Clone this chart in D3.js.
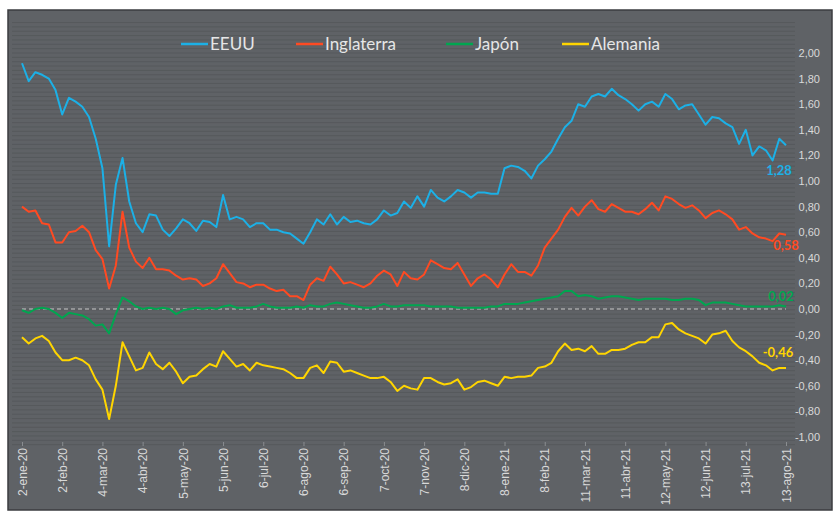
<!DOCTYPE html>
<html>
<head>
<meta charset="utf-8">
<script src="https://cdn.jsdelivr.net/npm/d3@7"></script>
<style>
  body { margin: 0; background: #fff; }
  svg { display: block; font-family: Lato, "Open Sans", sans-serif; }
</style>
</head>
<body>
<svg id="chart" width="836" height="514"></svg>
<script>
// one sample every 31/6 days, from 2-ene-20 to 13-ago-21
const startDate = new Date(2020, 0, 2);
const sampleStepDays = 31 / 6;
const tickStepDays = 31;
const tickCount = 20;
const meses = ["ene", "feb", "mar", "abr", "may", "jun", "jul", "ago", "sep", "oct", "nov", "dic"];
const yTicks = [-1, -0.8, -0.6, -0.4, -0.2, 0, 0.2, 0.4, 0.6, 0.8, 1, 1.2, 1.4, 1.6, 1.8, 2];

const seriesNames = ["EEUU", "Inglaterra", "Japón", "Alemania"];
const seriesColors = ["#1cb0e6", "#ff4a22", "#00a650", "#ffd500"];

const eeuu = [1.92, 1.78, 1.85, 1.83, 1.80, 1.71, 1.52, 1.65, 1.62, 1.58,
  1.50, 1.33, 1.10, 0.49, 0.97, 1.18, 0.84, 0.67, 0.60, 0.74,
  0.73, 0.62, 0.57, 0.63, 0.70, 0.67, 0.61, 0.69, 0.68, 0.64,
  0.89, 0.70, 0.72, 0.70, 0.64, 0.67, 0.67, 0.62, 0.62, 0.60,
  0.59, 0.55, 0.51, 0.60, 0.70, 0.66, 0.74, 0.66, 0.72, 0.68,
  0.69, 0.67, 0.66, 0.70, 0.77, 0.73, 0.75, 0.84, 0.79, 0.88,
  0.80, 0.93, 0.87, 0.84, 0.88, 0.93, 0.91, 0.87, 0.91, 0.91,
  0.90, 0.90, 1.10, 1.12, 1.11, 1.08, 1.02, 1.12, 1.17, 1.23,
  1.33, 1.42, 1.47, 1.60, 1.58, 1.66, 1.68, 1.66, 1.72, 1.67,
  1.64, 1.60, 1.55, 1.60, 1.62, 1.58, 1.68, 1.64, 1.56, 1.59,
  1.60, 1.52, 1.44, 1.50, 1.49, 1.45, 1.42, 1.29, 1.40, 1.20,
  1.27, 1.24, 1.16, 1.33, 1.28];

const inglaterra = [0.80, 0.76, 0.77, 0.67, 0.66, 0.52, 0.52, 0.60, 0.61, 0.65,
  0.60, 0.46, 0.39, 0.16, 0.34, 0.76, 0.48, 0.37, 0.32, 0.40,
  0.31, 0.31, 0.30, 0.26, 0.23, 0.24, 0.23, 0.18, 0.20, 0.24,
  0.35, 0.28, 0.21, 0.20, 0.17, 0.19, 0.19, 0.16, 0.14, 0.15,
  0.10, 0.10, 0.07, 0.19, 0.24, 0.22, 0.33, 0.27, 0.20, 0.21,
  0.19, 0.17, 0.20, 0.26, 0.30, 0.27, 0.18, 0.29, 0.24, 0.23,
  0.27, 0.38, 0.35, 0.32, 0.31, 0.36, 0.27, 0.18, 0.24, 0.27,
  0.23, 0.17, 0.27, 0.35, 0.29, 0.29, 0.26, 0.34, 0.48, 0.55,
  0.62, 0.72, 0.79, 0.73, 0.80, 0.85, 0.78, 0.76, 0.82, 0.79,
  0.76, 0.76, 0.74, 0.78, 0.83, 0.77, 0.88, 0.86, 0.82, 0.79,
  0.81, 0.77, 0.71, 0.75, 0.77, 0.74, 0.70, 0.62, 0.64, 0.59,
  0.56, 0.55, 0.53, 0.59, 0.58];

const japon = [-0.01, -0.03, 0.00, 0.01, 0.00, -0.03, -0.07, -0.03, -0.04, -0.05,
  -0.08, -0.13, -0.12, -0.19, -0.04, 0.09, 0.06, 0.02, 0.00, 0.01,
  0.00, 0.01, 0.00, -0.04, -0.01, 0.00, 0.01, 0.00, 0.01, 0.00,
  0.02, 0.03, 0.01, 0.01, 0.01, 0.02, 0.04, 0.02, 0.01, 0.01,
  0.01, 0.02, 0.01, 0.03, 0.02, 0.02, 0.04, 0.05, 0.04, 0.03,
  0.02, 0.01, 0.01, 0.02, 0.04, 0.02, 0.02, 0.03, 0.03, 0.03,
  0.03, 0.02, 0.02, 0.02, 0.02, 0.01, 0.01, 0.01, 0.01, 0.01,
  0.02, 0.02, 0.04, 0.04, 0.04, 0.05, 0.06, 0.07, 0.08, 0.09,
  0.10, 0.14, 0.14, 0.10, 0.11, 0.10, 0.08, 0.09, 0.10, 0.10,
  0.09, 0.08, 0.07, 0.08, 0.08, 0.08, 0.08, 0.07, 0.07, 0.08,
  0.08, 0.07, 0.03, 0.05, 0.05, 0.05, 0.04, 0.03, 0.02, 0.02,
  0.02, 0.02, 0.02, 0.03, 0.02];

const alemania = [-0.22, -0.27, -0.23, -0.21, -0.25, -0.34, -0.40, -0.40, -0.38, -0.40,
  -0.44, -0.55, -0.63, -0.86, -0.60, -0.26, -0.37, -0.48, -0.46, -0.34,
  -0.43, -0.47, -0.42, -0.49, -0.58, -0.53, -0.52, -0.47, -0.43, -0.45,
  -0.33, -0.39, -0.45, -0.43, -0.48, -0.42, -0.44, -0.45, -0.46, -0.47,
  -0.50, -0.54, -0.54, -0.46, -0.44, -0.50, -0.41, -0.42, -0.49, -0.48,
  -0.50, -0.52, -0.54, -0.54, -0.53, -0.57, -0.64, -0.60, -0.62, -0.63,
  -0.54, -0.54, -0.57, -0.59, -0.58, -0.55, -0.63, -0.61, -0.57, -0.56,
  -0.58, -0.60, -0.53, -0.54, -0.53, -0.53, -0.52, -0.46, -0.45, -0.42,
  -0.33, -0.27, -0.32, -0.31, -0.33, -0.29, -0.35, -0.35, -0.32, -0.32,
  -0.31, -0.28, -0.26, -0.26, -0.22, -0.22, -0.12, -0.11, -0.16, -0.19,
  -0.21, -0.23, -0.27, -0.20, -0.19, -0.17, -0.25, -0.30, -0.33, -0.37,
  -0.42, -0.44, -0.48, -0.46, -0.46];

const allSeries = [eeuu, inglaterra, japon, alemania];
const dayMs = 864e5;
const dateAt = i => new Date(startDate.getTime() + i * sampleStepDays * dayMs);
const tickDates = d3.range(tickCount).map(k => d3.timeDay.offset(startDate, k * tickStepDays));
const fmtDate = d => `${d.getDate()}-${meses[d.getMonth()]}-${String(d.getFullYear()).slice(2)}`;
const fmtNum = v => d3.format(".2f")(v).replace(".", ",").replace("−", "-");

const svg = d3.select("#chart");

// frame + background
svg.append("rect")
    .attr("x", 8).attr("y", 10)
    .attr("width", 824).attr("height", 500)
    .attr("fill", "#5f6266")
    .attr("stroke", "#3b3d40")
    .attr("stroke-width", 1.5);

const xScale = d3.scaleTime()
    .domain([startDate, dateAt(eeuu.length - 1)])
    .range([22, 786]);

const yScale = d3.scaleLinear()
    .domain([-1, 2])
    .range([437, 53]);

// thin horizontal stripes in the plot background (kept inside the frame)
const stripes = d3.range(-1.06, 2.25, 0.034);
svg.append("g")
  .selectAll("line")
  .data(stripes)
  .join("line")
    .attr("x1", 12).attr("x2", 795)
    .attr("y1", d => yScale(d)).attr("y2", d => yScale(d))
    .attr("stroke", "#56595c")
    .attr("stroke-width", 1);

// right y axis
const yAxis = d3.axisRight(yScale)
    .tickValues(yTicks)
    .tickFormat(fmtNum)
    .tickSize(0);
const yAxisG = svg.append("g")
    .attr("transform", "translate(820,0)")
    .call(yAxis);
yAxisG.select(".domain").remove();
yAxisG.selectAll("text")
    .attr("x", 0)
    .attr("text-anchor", "end")
    .attr("fill", "#d9d9d9")
    .style("font-size", "11px");

// x axis: labels rotated
const xAxis = d3.axisBottom(xScale)
    .tickValues(tickDates)
    .tickFormat(fmtDate)
    .tickSize(4);
const xAxisG = svg.append("g")
    .attr("transform", "translate(0,442)")
    .call(xAxis);
xAxisG.select(".domain").remove();
xAxisG.selectAll("line").attr("stroke", "#8a8d90");
xAxisG.selectAll("text")
    .attr("transform", "rotate(-90)")
    .attr("x", -6)
    .attr("y", 0)
    .attr("dy", "0.35em")
    .attr("text-anchor", "end")
    .attr("fill", "#d9d9d9")
    .style("font-size", "12px");

// zero reference line
svg.append("line")
    .attr("x1", xScale.range()[0]).attr("x2", xScale.range()[1])
    .attr("y1", yScale(0)).attr("y2", yScale(0))
    .attr("stroke", "#c8c8c8")
    .attr("stroke-width", 1)
    .attr("stroke-dasharray", "4,3");

// series lines
const line = d3.line()
    .x((d, i) => xScale(dateAt(i)))
    .y(d => yScale(d))
    .curve(d3.curveLinear);

svg.append("g")
  .selectAll("path")
  .data(allSeries)
  .join("path")
    .attr("d", d => line(d))
    .attr("fill", "none")
    .attr("stroke", (d, i) => seriesColors[i])
    .attr("stroke-width", 2)
    .attr("stroke-linejoin", "round");

// last value labels
const labelOffsets = [[-7, 25], [0, 11], [-5, -10], [-8, -15]];
svg.append("g")
  .selectAll("text")
  .data(allSeries)
  .join("text")
    .attr("x", (d, i) => xScale(dateAt(d.length - 1)) + labelOffsets[i][0])
    .attr("y", (d, i) => yScale(d[d.length - 1]) + labelOffsets[i][1])
    .attr("text-anchor", "middle")
    .attr("dy", "0.35em")
    .attr("fill", (d, i) => seriesColors[i])
    .style("font-size", "13px")
    .style("font-weight", "bold")
    .text(d => fmtNum(d[d.length - 1]));

// legend
const legendX = [181, 296, 446, 562];
const legend = svg.append("g")
  .selectAll("g")
  .data(seriesNames)
  .join("g")
    .attr("transform", (d, i) => `translate(${legendX[i]},44)`);
legend.append("line")
    .attr("x1", 0).attr("x2", 27)
    .attr("stroke", (d, i) => seriesColors[i])
    .attr("stroke-width", 2.5);
legend.append("text")
    .attr("x", 29)
    .attr("dy", "0.35em")
    .attr("fill", "#e6e6e6")
    .style("font-size", "17px")
    .text(d => d);
</script>
</body>
</html>
